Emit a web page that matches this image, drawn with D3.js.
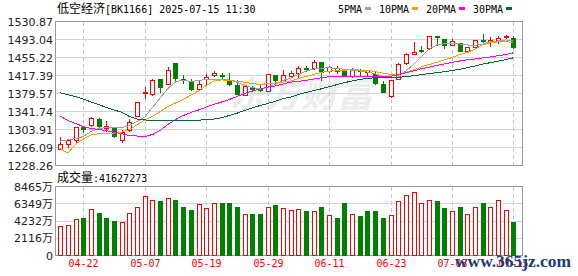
<!DOCTYPE html>
<html><head><meta charset="utf-8">
<script src="https://cdn.jsdelivr.net/npm/d3@7"></script>
<style>body{margin:0;background:#fff;} svg{display:block;}</style>
</head><body>
<svg id="c" width="578" height="276"></svg>
<script>
const dates=["04-17","04-18","04-21","04-22","04-23","04-24","04-25","04-28","04-29","04-30",
"05-06","05-07","05-08","05-09","05-12","05-13","05-14","05-15","05-16","05-19",
"05-20","05-21","05-22","05-23","05-26","05-27","05-28","05-29","05-30","06-03",
"06-04","06-05","06-06","06-09","06-10","06-11","06-12","06-13","06-16","06-17",
"06-18","06-19","06-20","06-23","06-24","06-25","06-26","06-27","06-30","07-01",
"07-02","07-03","07-04","07-07","07-08","07-09","07-10","07-11","07-14","07-15"];
const open=[1263.4,1273.9,1280.8,1308.7,1313.8,1326.4,1307.5,1306.6,1282.3,1303.3,
1333.3,1380.2,1379.0,1410.5,1399.9,1443.2,1409.0,1405.4,1389.4,1409.0,
1417.4,1417.4,1408.4,1396.4,1376.0,1391.3,1390.7,1384.4,1417.4,1406.9,
1415.3,1423.1,1434.2,1433.6,1445.3,1426.4,1426.4,1430.0,1415.3,1427.9,
1424.3,1421.0,1398.5,1373.3,1410.5,1443.2,1463.0,1472.0,1474.8,1501.4,
1494.5,1481.9,1485.3,1468.5,1478.3,1492.4,1488.8,1490.9,1497.9,1495.8];
const close=[1273.9,1280.8,1308.7,1304.5,1327.7,1312.3,1311.7,1291.3,1298.2,1319.2,
1362.7,1383.1,1408.4,1392.8,1429.4,1411.7,1406.9,1389.4,1399.9,1413.8,
1422.2,1415.9,1399.9,1377.5,1394.3,1390.1,1385.9,1421.0,1406.9,1417.4,
1422.6,1433.6,1430.6,1446.8,1424.3,1434.8,1433.6,1418.9,1431.5,1426.4,
1427.9,1401.2,1382.3,1408.4,1442.0,1463.0,1467.8,1470.6,1501.4,1497.9,
1482.5,1489.5,1469.9,1476.9,1492.4,1490.9,1493.0,1495.8,1501.4,1476.9];
const high=[1289.2,1284.4,1310.2,1312.3,1329.8,1327.7,1321.3,1306.6,1303.3,1325.6,
1362.7,1392.8,1410.5,1410.5,1434.8,1443.6,1417.4,1410.5,1408.4,1421.0,
1425.8,1422.2,1422.2,1406.9,1395.7,1394.3,1397.8,1421.0,1417.4,1427.9,
1425.8,1438.4,1438.4,1450.4,1446.8,1438.4,1438.4,1431.5,1432.7,1431.5,
1429.4,1424.3,1404.8,1408.4,1443.2,1464.2,1487.4,1480.4,1501.4,1501.4,
1494.5,1494.5,1485.3,1476.9,1492.4,1505.0,1497.9,1501.4,1503.5,1501.4];
const low=[1261.9,1266.7,1275.1,1298.2,1312.3,1305.4,1301.8,1287.7,1277.2,1301.8,
1331.9,1370.5,1375.4,1382.3,1398.5,1406.9,1400.6,1387.9,1385.9,1399.9,
1415.3,1410.5,1397.8,1377.5,1375.4,1384.4,1384.4,1384.4,1397.8,1405.4,
1413.2,1412.6,1426.4,1431.5,1408.4,1424.3,1422.2,1417.4,1413.8,1417.4,
1417.4,1399.9,1382.3,1371.8,1409.0,1442.0,1463.0,1467.8,1473.5,1482.5,
1475.6,1481.9,1468.5,1466.4,1475.6,1487.4,1479.0,1485.3,1495.8,1475.6];
const volume=[3680,3800,4500,4620,5730,5190,4620,4290,4170,5230,
6010,7360,6830,6630,7080,6870,6010,5640,6340,5850,
6460,6380,6500,5890,5030,5030,5150,6010,6170,5850,
5600,5730,5400,5480,5890,4910,4540,6500,5030,4790,
5400,5520,4540,4910,6630,7480,7850,6460,6750,6630,
5770,5400,5890,5030,5890,6380,6010,6750,5640,4163];
const volUp=[1,1,1,0,1,0,0,0,1,1, 1,1,1,0,1,0,0,0,1,1, 1,0,0,0,1,0,0,1,0,1,
1,1,0,1,0,1,0,0,1,0, 0,0,0,1,1,1,1,1,1,0, 0,1,0,1,1,0,1,1,1,0];
const ma5=[1279.3,1282.3,1284.6,1289.2,1299.7,1306.4,1307.5,1307.5,1307.5,1312.3,
1320.7,1330.2,1350.1,1370.1,1390.1,1403.7,1407.9,1404.8,1406.9,1409.0,
1408.4,1410.0,1407.9,1403.3,1396.4,1392.2,1389.4,1392.2,1398.5,1406.9,
1412.1,1419.5,1426.8,1431.0,1432.7,1433.6,1432.1,1430.4,1428.5,1426.8,
1424.7,1420.9,1415.3,1412.6,1413.6,1426.8,1440.5,1457.3,1473.1,1481.5,
1484.0,1485.1,1483.6,1481.5,1480.9,1483.6,1487.8,1490.3,1492.2,1489.9];
const ma10=[1263.3,1254.5,1273.4,1283.9,1292.4,1295.1,1295.5,1296.1,1298.6,1303.9,
1313.4,1323.9,1331.2,1341.7,1352.2,1359.6,1366.9,1376.4,1384.8,1396.4,
1405.8,1408.1,1407.3,1405.4,1403.1,1400.6,1398.5,1400.2,1401.6,1403.7,
1405.8,1411.1,1415.3,1419.5,1424.3,1426.4,1427.9,1428.7,1429.4,1428.9,
1428.1,1425.8,1422.2,1419.5,1417.8,1423.7,1428.9,1435.2,1440.5,1444.9,
1449.9,1455.2,1461.5,1465.7,1473.1,1482.1,1486.1,1488.2,1488.8,1486.1];
const ma20=[1331.9,1322.8,1316.5,1310.2,1306.0,1303.9,1301.4,1298.2,1294.9,1291.3,
1290.2,1289.2,1293.4,1301.8,1314.4,1324.9,1333.3,1339.6,1344.9,1351.2,
1356.4,1361.7,1366.9,1373.3,1379.6,1385.2,1388.6,1393.2,1395.5,1399.5,
1403.3,1405.2,1407.3,1410.0,1412.8,1414.7,1415.7,1416.0,1416.0,1416.0,
1416.0,1415.7,1415.5,1415.5,1418.9,1423.1,1427.3,1431.5,1434.8,1438.4,
1441.6,1444.7,1447.9,1450.4,1452.1,1454.2,1456.3,1459.0,1461.5,1465.1];
const ma30=[1381.0,1376.8,1372.8,1368.0,1361.7,1356.4,1350.1,1344.9,1340.2,1331.2,
1326.0,1324.3,1321.8,1321.8,1322.8,1322.8,1322.8,1323.2,1323.6,1324.3,
1326.0,1328.7,1333.3,1338.2,1343.8,1349.1,1354.3,1358.6,1363.4,1368.4,
1372.2,1377.5,1381.7,1385.9,1389.4,1393.8,1398.1,1402.3,1405.8,1409.0,
1411.5,1412.6,1413.2,1413.6,1413.8,1414.7,1417.0,1419.1,1421.2,1423.3,
1425.4,1427.9,1430.6,1433.8,1437.4,1441.6,1444.3,1447.2,1451.0,1454.6];
const priceTicks=[1228.26,1266.09,1303.91,1341.74,1379.57,1417.39,1455.22,1493.04,1530.87];
const volTicks=[0,2116,4232,6349,8465];
const xTickIdx=[3,11,19,27,35,43,51,59];
const maNames=["5PMA","10PMA","20PMA","30PMA"];
const maColors=["#a0a0a0","#f5a000","#ff00ff","#006b35"];
const title="[BK1166] 2025-07-15 11:30", titleCN="低空经济";
const volCurrent="41627273";

const svg=d3.select("#c");
const W=578,H=276, L=55.5, R=522.5;
const UP="#ff0000", DN="#008000";
const MONO="'DejaVu Sans Mono', monospace", CJK="'Noto Sans CJK SC', sans-serif";
svg.append("rect").attr("width",W).attr("height",H).attr("fill","#fff");

const x=d3.scaleLinear().domain([0,59]).range([60.3,513.4]);
const y=d3.scaleLinear().domain([priceTicks[0],priceTicks[8]]).range([165.5,21.5]);
const yv=d3.scaleLinear().domain([0,8465]).range([255.5,186.5]);
const px=i=>Math.round(x(i));

// watermark
svg.append("text").attr("x",229).attr("y",107).text("东方财富")
  .attr("font-family",CJK).attr("font-size",36).attr("font-weight","bold")
  .attr("font-style","italic").attr("fill","#ececef");

// grids
const g=svg.append("g").attr("shape-rendering","crispEdges");
priceTicks.forEach(t=>g.append("line").attr("x1",L).attr("x2",R).attr("y1",y(t)).attr("y2",y(t)).attr("stroke","#d4d4d4"));
volTicks.forEach(t=>g.append("line").attr("x1",L).attr("x2",R).attr("y1",yv(t)).attr("y2",yv(t)).attr("stroke","#d4d4d4"));
xTickIdx.forEach(i=>{
  const xx=px(i)+0.5;
  g.append("line").attr("x1",xx).attr("x2",xx).attr("y1",21.5).attr("y2",165.5).attr("stroke","#c8c8c8").attr("stroke-dasharray","4,3");
  g.append("line").attr("x1",xx).attr("x2",xx).attr("y1",186.5).attr("y2",255.5).attr("stroke","#c8c8c8").attr("stroke-dasharray","4,3");
});

// candles
const cg=svg.append("g").attr("shape-rendering","crispEdges");
dates.forEach((d,i)=>{
  const cx=px(i), up=close[i]>=open[i], col=up?UP:DN;
  cg.append("line").attr("x1",cx+0.5).attr("x2",cx+0.5).attr("y1",Math.round(y(high[i]))).attr("y2",Math.round(y(low[i]))+1).attr("stroke",col);
  const yo=Math.round(y(open[i])), yc=Math.round(y(close[i]));
  if(up){
    const t=yc, h=Math.max(1,yo-yc);
    cg.append("rect").attr("x",cx-1.5).attr("y",t+0.5).attr("width",4).attr("height",h).attr("fill","#fff").attr("stroke",col);
  } else {
    const t=yo, h=Math.max(1,yc-yo);
    cg.append("rect").attr("x",cx-2).attr("y",t).attr("width",5).attr("height",h+1).attr("fill",col);
  }
});

// MA lines
[ma5,ma10,ma20,ma30].forEach((arr,k)=>{
  svg.append("path").attr("d",d3.line().x((d,i)=>x(i)).y(d=>y(d))(arr))
    .attr("fill","none").attr("stroke",maColors[k]).attr("stroke-width",1).attr("shape-rendering","crispEdges");
});

// volume
const vg=svg.append("g").attr("shape-rendering","crispEdges");
volume.forEach((v,i)=>{
  const cx=px(i), t=Math.round(yv(v));
  if(volUp[i]) vg.append("rect").attr("x",cx-1.5).attr("y",t+0.5).attr("width",4).attr("height",255-t).attr("fill","#fff").attr("stroke",UP);
  else vg.append("rect").attr("x",cx-2).attr("y",t).attr("width",5).attr("height",256-t).attr("fill",DN);
});

// borders
g.append("rect").attr("x",L).attr("y",21.5).attr("width",R-L).attr("height",144).attr("fill","none").attr("stroke","#999");
g.append("rect").attr("x",L).attr("y",186.5).attr("width",R-L).attr("height",69).attr("fill","none").attr("stroke","#999");

// axes
const ya=svg.append("g").attr("transform","translate(55,0)")
  .call(d3.axisLeft(y).tickValues(priceTicks).tickFormat(d3.format(".2f")).tickSize(0).tickPadding(2));
const va=svg.append("g").attr("transform","translate(55,0)")
  .call(d3.axisLeft(yv).tickValues(volTicks).tickFormat(d=>d===0?"0":d+"万").tickSize(0).tickPadding(2));
[ya,va].forEach(a=>{a.select(".domain").remove();a.selectAll("text").attr("font-family","'DejaVu Sans', "+CJK).attr("font-size",11).attr("fill","#222");});
const xa=svg.append("g").attr("transform","translate(0,260)")
  .call(d3.axisBottom(d3.scaleLinear().domain([0,59]).range([60.3,513.4])).tickValues(xTickIdx).tickFormat(i=>dates[i]).tickSize(0).tickPadding(0));
xa.select(".domain").remove();
xa.selectAll(".tick").attr("transform",i=>`translate(${px(i)+0.5},0)`);
xa.selectAll("text").attr("font-family",MONO).attr("font-size",10).attr("fill",UP).attr("dy","0.71em");

// title
const tt=svg.append("text").attr("x",57).attr("y",13).attr("fill","#000");
tt.append("tspan").attr("font-family",CJK).attr("font-size",12).text(titleCN);
tt.append("tspan").attr("font-family",MONO).attr("font-size",10).text(title);

const vt=svg.append("text").attr("x",57).attr("y",182).attr("fill","#000");
vt.append("tspan").attr("font-family",CJK).attr("font-size",12).text("成交量");
vt.append("tspan").attr("font-family",MONO).attr("font-size",10).text(":"+volCurrent);

// legend
let lx=338;
maNames.forEach((n,k)=>{
  svg.append("text").attr("x",lx).attr("y",13).attr("font-family",MONO).attr("font-size",10).attr("fill","#000").text(n);
  const sw=lx+n.length*6+3;
  svg.append("rect").attr("x",sw).attr("y",7).attr("width",6).attr("height",3).attr("fill",maColors[k]);
  lx=sw+6+8;
});

// site watermark
svg.append("text").attr("x",455).attr("y",267).text("www.365jz.com")
  .attr("font-family","'Liberation Serif', serif").attr("font-weight","bold").attr("font-size",16)
  .attr("fill","#1d3b78").attr("textLength",116).attr("lengthAdjust","spacingAndGlyphs");
</script>
</body></html>
